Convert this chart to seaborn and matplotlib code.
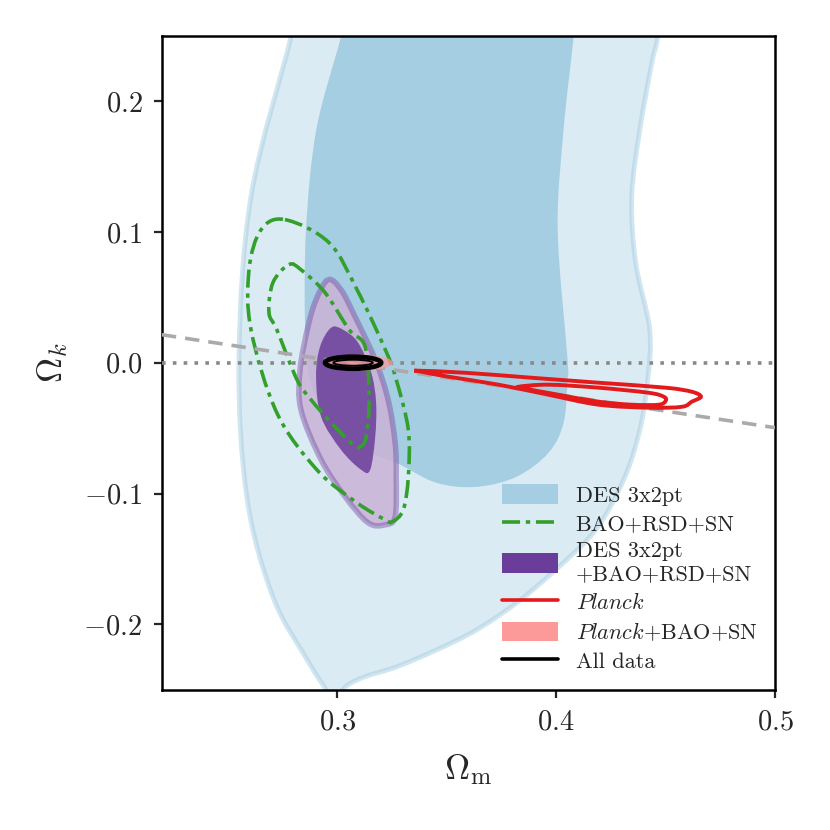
import numpy as np
import matplotlib
matplotlib.use("Agg")
import matplotlib.pyplot as plt
from matplotlib.patches import Patch, Ellipse, PathPatch
from matplotlib.path import Path
from matplotlib.lines import Line2D
import seaborn as sns

# contour outlines (Omega_m, Omega_k)
des_outer_om = [0.283, 0.2790, 0.2607, 0.2552, 0.2588, 0.2707, 0.2872, 0.2950, 0.298,
                0.3037, 0.3128, 0.327, 0.3453, 0.3636, 0.3819, 0.3997, 0.418, 0.4308,
                0.4382, 0.4418, 0.4427, 0.4363, 0.4345, 0.4382, 0.4437, 0.4464, 0.449]
des_outer_ok = [0.29, 0.2494, 0.1270, 0.0023, -0.1025, -0.1790, -0.2295, -0.2502, -0.262,
                -0.2479, -0.240, -0.2326, -0.2196, -0.2043, -0.1836, -0.1584, -0.1278, -0.0895,
                -0.0513, -0.0130, 0.0252, 0.0765, 0.127, 0.1782, 0.2295, 0.2494, 0.29]

des_inner_om = [0.307, 0.3018, 0.2905, 0.2858, 0.2854, 0.2876, 0.2959, 0.3119, 0.327,
                0.3453, 0.3636, 0.3819, 0.3965, 0.4034, 0.4052, 0.4052, 0.4007, 0.4034,
                0.408, 0.41]
des_inner_ok = [0.29, 0.2494, 0.1782, 0.1017, 0.0252, -0.013, -0.0436, -0.0666, -0.0765,
                -0.0918, -0.0949, -0.0872, -0.0689, -0.0459, -0.013, 0.0023, 0.1017, 0.1782,
                0.2494, 0.29]

bao_outer_om = [0.2762, 0.2963, 0.3091, 0.322, 0.327, 0.3325, 0.3325, 0.3302, 0.3252,
                0.322, 0.3091, 0.2908, 0.2725, 0.2607, 0.2598, 0.2653]
bao_outer_ok = [0.1094, 0.0918, 0.0558, 0.01, -0.013, -0.0513, -0.0872, -0.1125, -0.1216,
                -0.1201, -0.1071, -0.0819, -0.0383, 0.0252, 0.0711, 0.1017]

bao_inner_om = [0.278, 0.2835, 0.2945, 0.3055, 0.3128, 0.3146, 0.3133, 0.3105, 0.3073,
                0.2973, 0.2881, 0.2817, 0.2725, 0.2689, 0.2707]
bao_inner_ok = [0.075, 0.0711, 0.0536, 0.0252, 0.0122, -0.026, -0.0566, -0.0643, -0.0627,
                -0.0459, -0.0283, -0.013, 0.0252, 0.0383, 0.0612]

comb_outer_om = [0.2959, 0.3018, 0.3082, 0.3174, 0.3233, 0.3265, 0.327, 0.3265, 0.322,
                 0.3142, 0.3037, 0.2927, 0.2835, 0.2831, 0.2867, 0.2904]
comb_outer_ok = [0.0635, 0.0558, 0.0352, 0.0023, -0.0283, -0.0612, -0.0872, -0.1178, -0.1239,
                 -0.1224, -0.1025, -0.0742, -0.036, -0.0054, 0.0275, 0.0482]

comb_inner_om = [0.2973, 0.3027, 0.3096, 0.3156, 0.3178, 0.3174, 0.3151, 0.311, 0.3018,
                 0.2927, 0.2904, 0.2922]
comb_inner_ok = [0.0268, 0.0252, 0.0153, -0.0077, -0.0306, -0.0566, -0.0819, -0.0819, -0.0666,
                 -0.0413, -0.0107, 0.0122]

planck_outer_om = [0.3371, 0.3586, 0.3888, 0.4194, 0.45, 0.4619, 0.4661, 0.4619, 0.4574,
                   0.4423, 0.4194, 0.3965, 0.3737, 0.3508, 0.3385]
planck_outer_ok = [-0.0061, -0.0077, -0.0115, -0.0153, -0.0191, -0.0222, -0.026, -0.0298, -0.0337,
                   -0.0344, -0.0321, -0.0245, -0.0168, -0.0107, -0.0069]

planck_inner_om = [0.3828, 0.3965, 0.4194, 0.4423, 0.4491, 0.45, 0.4468, 0.4345, 0.4194,
                   0.4011, 0.386]
planck_inner_ok = [-0.0184, -0.0168, -0.0191, -0.023, -0.026, -0.0291, -0.0321, -0.0321, -0.0298,
                   -0.0245, -0.0199]

# small ellipses: centre and full sizes (all data: outer, inner contour)
alldata_center = (0.3073, 0.0)
alldata_width = [0.0256, 0.018]
alldata_height = [0.0092, 0.0046]
pbs_center = (0.3095, 0.0)
pbs_width = 0.032
pbs_height = 0.0125

# guide lines
guide_om = [0.22, 0.50]
guide_ok = [0.0214, -0.0497]

x_ticks = [0.3, 0.4, 0.5]
y_ticks = [-0.2, -0.1, 0.0, 0.1, 0.2]


def smooth_path(xs, ys):
    """Closed Catmull-Rom curve through the read points, as a Bezier path."""
    p = np.column_stack([xs, ys])
    n = len(p)
    verts = [p[0]]
    codes = [Path.MOVETO]
    for i in range(n):
        p0, p1, p2, p3 = p[i - 1], p[i], p[(i + 1) % n], p[(i + 2) % n]
        verts += [p1 + (p2 - p0) / 6, p2 - (p3 - p1) / 6, p2]
        codes += [Path.CURVE4] * 3
    return Path(np.array(verts), codes)


sns.set_theme(style="ticks")
plt.rcParams["font.family"] = ["cmr10"]
plt.rcParams["mathtext.fontset"] = "cm"
plt.rcParams["axes.formatter.use_mathtext"] = True
plt.rcParams["axes.unicode_minus"] = True

c_blue = "#a6cee3"
c_green = "#33a02c"
c_purple = "#6a3d9a"
c_lpurple = "#cab2d6"
c_red = "#e31a1c"
c_pink = "#fb9a99"

fig = plt.figure(figsize=(8.3, 8.3), dpi=100)
ax = fig.add_axes([0.195, 0.169, 0.739, 0.788])

# DES 3x2pt
ax.add_patch(PathPatch(smooth_path(des_outer_om, des_outer_ok), facecolor=c_blue,
                       alpha=0.4, lw=0, zorder=1))
ax.add_patch(PathPatch(smooth_path(des_inner_om, des_inner_ok), facecolor=c_blue,
                       lw=0, zorder=2))
ax.add_patch(PathPatch(smooth_path(des_outer_om, des_outer_ok), fill=False,
                       edgecolor=c_blue, alpha=0.5, lw=3.5, zorder=2))

# BAO+RSD+SN
dashdot = (0, (5, 1.6, 1.2, 1.6))
for om, ok in [(bao_outer_om, bao_outer_ok), (bao_inner_om, bao_inner_ok)]:
    ax.add_patch(PathPatch(smooth_path(om, ok), fill=False, edgecolor=c_green,
                           lw=2.6, linestyle=dashdot, zorder=5))

# DES 3x2pt + BAO+RSD+SN
ax.add_patch(PathPatch(smooth_path(comb_outer_om, comb_outer_ok), facecolor=c_lpurple,
                       alpha=0.85, lw=0, zorder=3))
ax.add_patch(PathPatch(smooth_path(comb_outer_om, comb_outer_ok), fill=False,
                       edgecolor=c_purple, alpha=0.4, lw=4, zorder=3))
ax.add_patch(PathPatch(smooth_path(comb_inner_om, comb_inner_ok), facecolor=c_purple,
                       alpha=0.85, lw=0, zorder=4))

# guides
sns.lineplot(x=guide_om, y=guide_ok, ax=ax, color="#aaaaaa", lw=2.6,
             linestyle=(0, (4, 2.5)), zorder=6)
ax.axhline(0.0, color="#888888", lw=2.6, linestyle=(0, (1, 2)), zorder=6)

# Planck
for om, ok in [(planck_outer_om, planck_outer_ok), (planck_inner_om, planck_inner_ok)]:
    ax.add_patch(PathPatch(smooth_path(om, ok), fill=False, edgecolor=c_red,
                           lw=2.8, zorder=7))

# Planck+BAO+SN and all data
ax.add_patch(Ellipse(pbs_center, pbs_width, pbs_height, color=c_pink, alpha=0.7,
                     lw=0, zorder=8))
for w, h, lw in zip(alldata_width, alldata_height, [3.4, 1.4]):
    ax.add_patch(Ellipse(alldata_center, w, h, fill=False, edgecolor="black", lw=lw,
                         zorder=9))

ax.set_xlim(0.22, 0.5)
ax.set_ylim(-0.25, 0.25)
ax.set_xticks(x_ticks)
ax.set_yticks(y_ticks)
ax.tick_params(direction="out", length=6, width=1.6, labelsize=20.5, pad=8)
for s in ax.spines.values():
    s.set_linewidth(1.8)
    s.set_color("black")
ax.set_xlabel(r"$\Omega_{\rm m}$", fontsize=25, labelpad=12)
ax.set_ylabel(r"$\Omega_k$", fontsize=25, labelpad=10)

handles = [
    Patch(facecolor=c_blue, edgecolor="none"),
    Line2D([], [], color=c_green, lw=2.6, linestyle=dashdot),
    Patch(facecolor=c_purple, edgecolor="none"),
    Line2D([], [], color=c_red, lw=2.6),
    Patch(facecolor=c_pink, edgecolor="none"),
    Line2D([], [], color="black", lw=2.6),
]
labels = ["DES 3x2pt", "BAO+RSD+SN", "DES 3x2pt\n+BAO+RSD+SN", "$Planck$",
          "$Planck$+BAO+SN", "All data"]
leg = ax.legend(handles, labels, loc="lower right", bbox_to_anchor=(1.0, 0.0),
                frameon=False, fontsize=16, handlelength=2.5, handleheight=1.0,
                labelspacing=0.33, handletextpad=0.8, borderaxespad=0.4)

fig.savefig("out.png", dpi=100)
